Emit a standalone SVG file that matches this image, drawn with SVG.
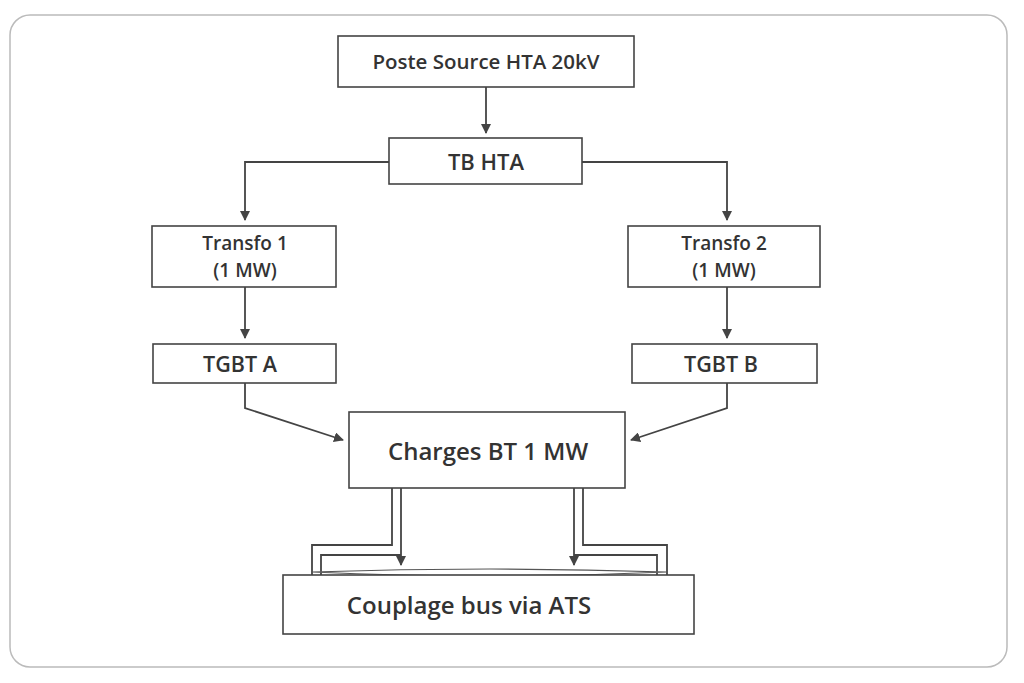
<svg xmlns="http://www.w3.org/2000/svg" width="1024" height="683" viewBox="0 0 1024 683">
<style>
.b{fill:#fff;stroke:#444;stroke-width:1.6}
.t{font-family:"Open Sans","Liberation Sans",sans-serif;font-weight:600;fill:#333;text-anchor:middle}
.c{fill:none;stroke:#444;stroke-width:1.8}
</style>
<defs><marker id="a" markerWidth="10" markerHeight="10" refX="9" refY="5" orient="auto" markerUnits="userSpaceOnUse" viewBox="0 0 10 10"><path d="M0,0L10,5L0,10z" fill="#444"/></marker></defs>
<rect x="0" y="0" width="1024" height="683" fill="#fff"/>
<rect x="10" y="15" width="997" height="652" rx="20" fill="#fff" stroke="#bbb" stroke-width="1.5"/>
<g id="connectors">
<path class="c" d="M486,87V133" marker-end="url(#a)"/>
<path class="c" d="M389,162H245V220" marker-end="url(#a)"/>
<path class="c" d="M582,162H727V220" marker-end="url(#a)"/>
<path class="c" d="M245,287V338" marker-end="url(#a)"/>
<path class="c" d="M727,287V338" marker-end="url(#a)"/>
<path class="c" d="M245,383V408L343,440" marker-end="url(#a)"/>
<path class="c" d="M727,383V408L631,440" marker-end="url(#a)"/>
<path class="c" d="M392,488V545H312V575"/>
<path class="c" d="M401,488V565" marker-end="url(#a)"/>
<path class="c" d="M321,575V555H401"/>
<path class="c" d="M583,488V545H667V575"/>
<path class="c" d="M574,488V565" marker-end="url(#a)"/>
<path class="c" d="M657,575V555H574"/>
<path fill="#fff" stroke="#555" stroke-width="1.2" d="M312,572Q490,566 667,572Q490,580 312,572z"/>
</g>
<g id="poste"><rect class="b" x="338" y="36" width="296" height="51"/><text class="t" x="486" y="69" font-size="20.5">Poste Source HTA 20kV</text></g>
<g id="tbhta"><rect class="b" x="389" y="138" width="193" height="46"/><text class="t" x="486" y="170" font-size="22">TB HTA</text></g>
<g id="transfo1"><rect class="b" x="152" y="226" width="184" height="61"/><text class="t" x="245" y="250" font-size="19">Transfo 1</text><text class="t" x="245" y="277" font-size="19">(1 MW)</text></g>
<g id="transfo2"><rect class="b" x="628" y="226" width="192" height="61"/><text class="t" x="724" y="250" font-size="19">Transfo 2</text><text class="t" x="724" y="277" font-size="19">(1 MW)</text></g>
<g id="tgbta"><rect class="b" x="153" y="344" width="183" height="39"/><text class="t" x="240" y="372" font-size="21.5">TGBT A</text></g>
<g id="tgbtb"><rect class="b" x="632" y="344" width="185" height="39"/><text class="t" x="721" y="372" font-size="21.5">TGBT B</text></g>
<g id="charges"><rect class="b" x="349" y="412" width="276" height="76"/><text class="t" x="488" y="460" font-size="24">Charges BT 1 MW</text></g>
<g id="couplage"><rect class="b" x="283" y="575" width="411" height="59"/><text class="t" x="469" y="614" font-size="24">Couplage bus via ATS</text></g>
</svg>
